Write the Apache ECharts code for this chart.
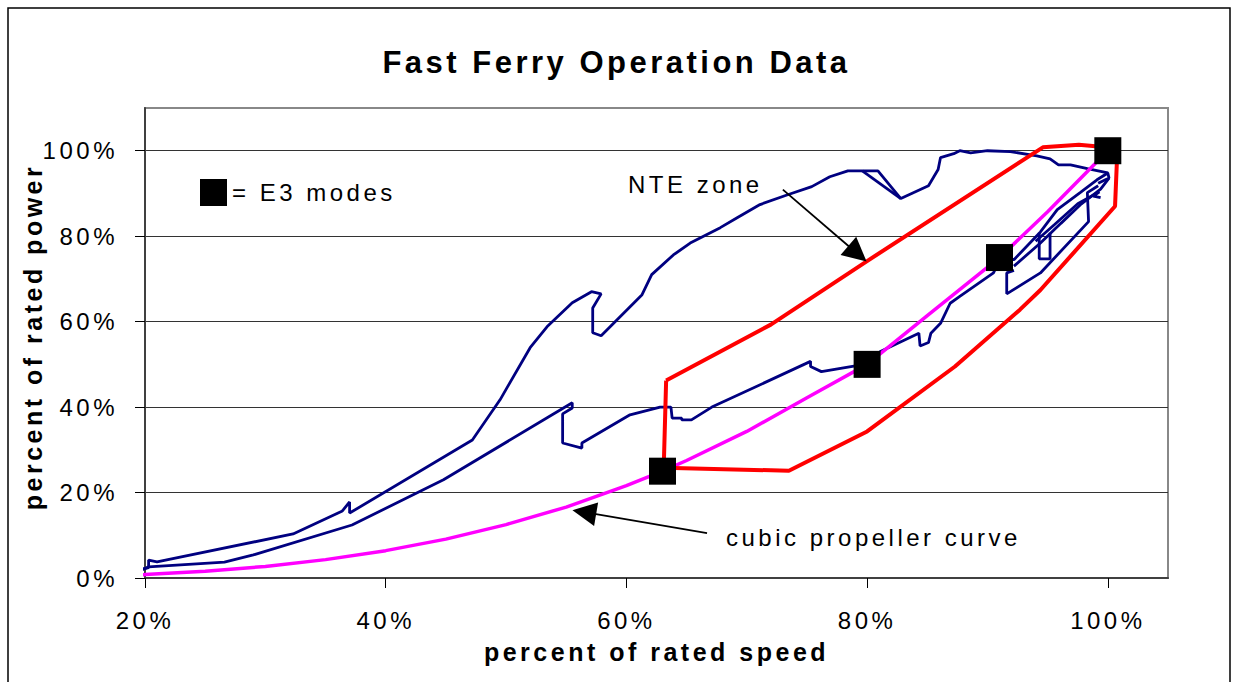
<!DOCTYPE html>
<html>
<head>
<meta charset="utf-8">
<title>Fast Ferry Operation Data</title>
<script src="https://cdn.jsdelivr.net/npm/echarts@6/dist/echarts.min.js"></script>
<style>
html, body { margin: 0; padding: 0; background: #fff; }
#main { width: 1233px; height: 682px; }
#main text { letter-spacing: 3.5px; }
</style>
</head>
<body>
<div id="main"></div>
<script>
// axis ticks (percent)
var speedTicks = [20, 40, 60, 80, 100];
var powerTicks = [0, 20, 40, 60, 80, 100];

// logged operation track, [speed %, power %], split where the trace doubles back
var opUpper = [
  [19.0, 1.6], [20.3, 2.4], [20.3, 4.2], [21.0, 3.8], [32.3, 10.3], [36.4, 15.7], [37.0, 17.8],
  [37.0, 15.2], [47.2, 32.3], [49.5, 41.7], [52.0, 53.9], [53.4, 58.8], [55.5, 64.4], [57.1, 67.0],
  [57.9, 66.5], [57.2, 63.2], [57.2, 57.4], [57.9, 56.7], [61.3, 66.3], [62.1, 71.0], [63.9, 75.6],
  [65.3, 78.4], [67.8, 82.0], [69.2, 84.3], [71.1, 87.4], [73.4, 89.7], [75.4, 91.6], [76.9, 93.9],
  [78.4, 95.3], [80.9, 95.3], [82.8, 88.8], [85.1, 91.8], [85.9, 95.6], [86.1, 98.4], [87.2, 99.3],
  [87.7, 100.0], [88.6, 99.5], [90.0, 100.0], [91.9, 99.8], [94.1, 98.8], [95.2, 98.1], [95.9, 96.7],
  [96.9, 96.7], [98.3, 95.8], [100.0, 94.8], [100.1, 93.6], [99.2, 92.4]
];
var opReturn = [[79.6, 95.3], [82.8, 88.8]];
var opMiddle = [
  [19.0, 1.0], [20.3, 2.6], [26.6, 3.7], [29.0, 5.4], [37.2, 12.4], [44.8, 23.0], [55.5, 41.0],
  [55.5, 39.8], [54.7, 38.4], [54.7, 31.6], [56.3, 30.4], [56.3, 31.6], [60.3, 38.2], [62.8, 40.0],
  [63.7, 40.0], [63.8, 37.4], [64.6, 37.4], [64.6, 37.0], [65.4, 37.0], [67.1, 40.0], [75.3, 50.7],
  [75.3, 49.5], [76.2, 48.3], [78.9, 49.6], [80.0, 50.0], [81.1, 53.0], [84.3, 57.3], [84.4, 54.3],
  [85.1, 55.1], [85.3, 57.3], [86.1, 59.6], [86.9, 64.3], [87.7, 65.9], [90.5, 71.4], [91.1, 75.0],
  [92.2, 74.5], [94.4, 81.0], [95.8, 86.2], [97.7, 90.2], [99.1, 93.2], [100.0, 94.8]
];
var opBundle = [[92.2, 73.0], [94.4, 78.4], [96.1, 83.0], [97.7, 87.3], [99.4, 91.0], [100.1, 93.6]];
var opBundle2 = [[94.0, 78.8], [95.6, 82.8], [97.5, 87.6], [99.3, 90.4], [98.8, 89.4], [99.4, 89.0]];
var opBox = [[94.3, 80.8], [94.3, 74.7], [95.2, 74.7], [95.2, 80.8]];
var opLoop = [[92.2, 72.0], [91.6, 71.4], [91.6, 66.5], [94.4, 71.4], [98.4, 83.4], [98.3, 90.2], [99.2, 91.8]];

// cubic propeller curve
var cubicSpeed = [19, 20, 25, 30, 35, 40, 45, 50, 55, 60, 63, 65, 70, 75, 80, 85, 91, 95, 100];
var cubicPower = [0.7, 0.8, 1.6, 2.7, 4.3, 6.4, 9.1, 12.5, 16.6, 21.6, 25.0, 27.5, 34.3, 42.2, 50.0, 61.4, 75.0, 85.7, 100];

// NTE zone outline
var nteZone = [
  [63.3, 46.2], [72.0, 59.3], [79.9, 74.0], [94.6, 100.8], [97.6, 101.4], [100.8, 100.6], [100.6, 87.0],
  [94.4, 67.4], [92.7, 62.8], [87.3, 49.5], [80.0, 34.3], [73.5, 25.1], [63.1, 25.8], [63.3, 46.2]
];

// E3 test modes
var e3Speed = [63, 80, 91, 100];
var e3Power = [25, 50, 75, 100];

// annotation arrows, from -> to
var nteArrow = [[73.0, 90.9], [79.2, 75.9]];
var cubicArrow = [[66.7, 10.5], [56.5, 15.4]];

var FONT = "'Liberation Sans', Arial, sans-serif";
var NAVY = '#000080';

function zip(xs, ys) {
  return xs.map(function (x, i) { return [x, ys[i]]; });
}

var opSeries = [opUpper, opReturn, opMiddle, opBundle, opBundle2, opBox, opLoop].map(function (track) {
  return {
    name: 'operation data',
    type: 'line',
    data: track,
    symbol: 'none',
    clip: false,
    silent: true,
    lineStyle: { color: NAVY, width: 2.8 },
    z: 2
  };
});

function arrow(a) {
  return [{ coord: a[0] }, { coord: a[1] }];
}

var chart = echarts.init(document.getElementById('main'), null, { renderer: 'svg' });

var option = {
  backgroundColor: '#fff',
  animation: false,
  title: {
    text: 'Fast Ferry Operation Data',
    left: 'center',
    top: 42,
    textStyle: { fontFamily: FONT, fontSize: 31, fontWeight: 'bold', color: '#000' }
  },
  legend: {
    data: ['E3 modes'],
    left: 200,
    top: 179,
    padding: 0,
    icon: 'rect',
    itemWidth: 27,
    itemHeight: 27,
    formatter: '= {name}',
    itemStyle: { color: '#000', opacity: 1 },
    textStyle: { fontFamily: FONT, fontSize: 24, color: '#000' }
  },
  grid: {
    left: 145, right: 65, top: 108, bottom: 104,
    show: true, borderColor: '#888', borderWidth: 2
  },
  xAxis: {
    type: 'value',
    min: 20, max: 105, interval: 20,
    name: 'percent of rated speed',
    nameLocation: 'middle',
    nameGap: 61,
    nameTextStyle: { fontFamily: FONT, fontSize: 25, fontWeight: 'bold', color: '#000' },
    axisLine: { lineStyle: { color: '#404040', width: 2 } },
    axisTick: { customValues: speedTicks, length: 10, lineStyle: { color: '#000' } },
    axisLabel: {
      customValues: speedTicks, margin: 30,
      fontFamily: FONT, fontSize: 24, color: '#000',
      formatter: function (v) { return v + '%'; }
    },
    splitLine: { show: false }
  },
  yAxis: {
    type: 'value',
    min: 0, max: 110, interval: 20,
    name: 'percent of rated power',
    nameLocation: 'middle',
    nameGap: 97,
    nameTextStyle: { fontFamily: FONT, fontSize: 25, fontWeight: 'bold', color: '#000', padding: [0, 0, 0, 12] },
    axisLine: { lineStyle: { color: '#404040', width: 2 } },
    axisTick: { customValues: powerTicks, length: 10, lineStyle: { color: '#000' } },
    axisLabel: {
      customValues: powerTicks, margin: 27,
      fontFamily: FONT, fontSize: 24, color: '#000',
      formatter: function (v) { return v + '%'; }
    },
    splitLine: { lineStyle: { color: '#333', width: 1 } }
  },
  graphic: [
    { type: 'rect', shape: { x: 8, y: 8, width: 1222, height: 700 }, style: { fill: 'none', stroke: '#000', lineWidth: 1.5 }, z: 0 },
    { type: 'text', x: 628, y: 184, style: { text: 'NTE zone', fontFamily: FONT, fontSize: 24, fill: '#000', verticalAlign: 'middle' }, z: 10 },
    { type: 'text', x: 726, y: 537, style: { text: 'cubic propeller curve', fontFamily: FONT, fontSize: 24, fill: '#000', verticalAlign: 'middle' }, z: 10 }
  ],
  series: opSeries.concat([
    {
      name: 'cubic propeller curve',
      type: 'line',
      data: zip(cubicSpeed, cubicPower),
      symbol: 'none',
      clip: false,
      silent: true,
      lineStyle: { color: '#FF00FF', width: 3.5 },
      z: 3,
      markLine: {
        silent: true,
        symbol: ['none', 'triangle'],
        symbolSize: 24,
        label: { show: false },
        lineStyle: { color: '#000', width: 1.8, type: 'solid' },
        itemStyle: { color: '#000' },
        data: [arrow(nteArrow), arrow(cubicArrow)]
      }
    },
    {
      name: 'NTE zone',
      type: 'line',
      data: nteZone,
      symbol: 'none',
      clip: false,
      silent: true,
      lineStyle: { color: '#FF0000', width: 4 },
      z: 4
    },
    {
      name: 'E3 modes',
      type: 'scatter',
      data: zip(e3Speed, e3Power),
      symbol: 'rect',
      symbolSize: 27,
      itemStyle: { color: '#000', opacity: 1 },
      z: 5
    }
  ])
};

chart.setOption(option);
</script>
</body>
</html>
